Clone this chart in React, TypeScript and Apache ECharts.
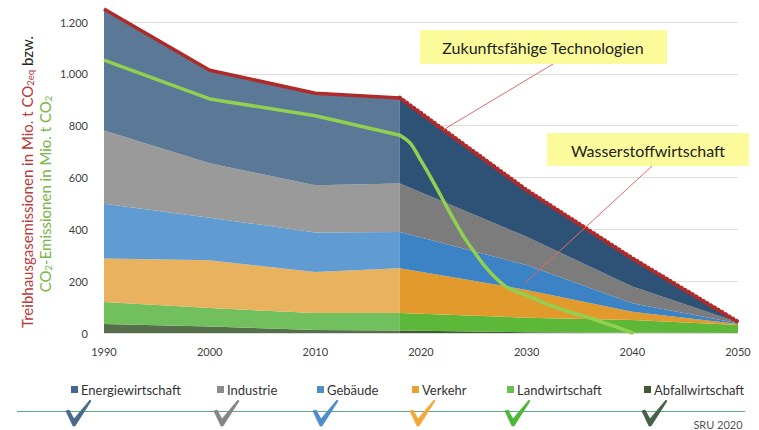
import React, { useEffect, useRef } from "react";
import * as echarts from "echarts";

// ---- data (Mio. t) ----
const sectorNames = ["Abfallwirtschaft", "Landwirtschaft", "Verkehr", "Gebäude", "Industrie", "Energiewirtschaft"];

const histYears = [1990, 2000, 2010, 2018];
const abfallHist = [35, 25, 12, 10];
const landwHist = [85, 71, 65, 67];
const verkehrHist = [167, 185, 158, 173];
const gebaeudeHist = [212, 164, 153, 140];
const industrieHist = [282, 210, 182, 187];
const energieHist = [469, 359, 355, 330];

const projYears = [2018, 2030, 2040, 2050];
const abfallProj = [10, 3, 1, 0];
const landwProj = [67, 56, 49, 31];
const verkehrProj = [173, 107, 32, 4];
const gebaeudeProj = [140, 96, 33, 3];
const industrieProj = [187, 109, 64, 3];
const energieProj = [330, 180, 109, 2];

const co2HistYears = [1990, 2000, 2010, 2018];
const co2HistValues = [1053, 903, 838, 763];
const co2ProjYears = [2018, 2019, 2020, 2021, 2022, 2023, 2024, 2025, 2026, 2027, 2028, 2029, 2030, 2032, 2034, 2036, 2038, 2040];
const co2ProjValues = [763, 732, 665, 595, 520, 445, 375, 315, 260, 215, 180, 160, 145, 110, 82, 58, 30, 0];

const xTicks = [1990, 2000, 2010, 2020, 2030, 2040, 2050];
const yTicks = [0, 200, 400, 600, 800, 1000, 1200];

// legend order as shown
const legendOrder = ["Energiewirtschaft", "Industrie", "Gebäude", "Verkehr", "Landwirtschaft", "Abfallwirtschaft"];

const histColors = ["#556f4a", "#72bf5e", "#e9b25e", "#609cd1", "#9a9a9a", "#5b7896"];
const projColors = ["#3d5a30", "#5db83a", "#e39a2d", "#3b83c4", "#7c7c7c", "#2e5275"];
const legendColors: Record<string, string> = {
  Energiewirtschaft: "#44678c",
  Industrie: "#8c8c8c",
  Gebäude: "#4f8fc6",
  Verkehr: "#e5a533",
  Landwirtschaft: "#6cbf4a",
  Abfallwirtschaft: "#3e5a35",
};
const checkColors = ["#4a6a8c", "#858585", "#4d8ec8", "#f2a93b", "#4cb83a", "#44604a"];

const histSets = [abfallHist, landwHist, verkehrHist, gebaeudeHist, industrieHist, energieHist];
const projSets = [abfallProj, landwProj, verkehrProj, gebaeudeProj, industrieProj, energieProj];

const sum = (sets: number[][], i: number) => sets.reduce((a, s) => a + s[i], 0);
const totalHist = histYears.map((_, i) => sum(histSets, i));
const totalProj = projYears.map((_, i) => sum(projSets, i));

const fmt = (v: number) =>
  v >= 1000 ? `${Math.floor(v / 1000)}.${String(v % 1000).padStart(3, "0")}` : String(v);

const FONT = "Lato, 'Open Sans', sans-serif";

export default function App() {
  const ref = useRef<HTMLDivElement>(null);
  useEffect(() => {
    if (!ref.current) return;
    const chart = echarts.init(ref.current, undefined, { renderer: "svg" });

    // data stored as [value, year] so that the stacked dimension is the value (y)
    const areaSeries: any[] = [];
    sectorNames.forEach((name, k) => {
      areaSeries.push({
        name,
        type: "line",
        stack: "hist",
        encode: { x: 1, y: 0 },
        data: histYears.map((y, i) => [histSets[k][i], y]),
        showSymbol: false,
        symbol: "none",
        lineStyle: { width: 0 },
        areaStyle: { color: histColors[k], opacity: 1 },
        itemStyle: { color: histColors[k] },
        clip: false,
        z: 2,
      });
    });
    sectorNames.forEach((name, k) => {
      areaSeries.push({
        name,
        type: "line",
        stack: "proj",
        encode: { x: 1, y: 0 },
        data: projYears.map((y, i) => [projSets[k][i], y]),
        showSymbol: false,
        symbol: "none",
        lineStyle: { width: 0 },
        areaStyle: { color: projColors[k], opacity: 1 },
        itemStyle: { color: projColors[k] },
        clip: false,
        z: 2,
      });
    });

    const legendLeft = [71, 217, 317, 412, 507, 644];
    const legends = legendOrder.map((n, i) => ({
      left: legendLeft[i],
      top: 383,
      padding: 0,
      itemWidth: 7,
      itemHeight: 7,
      icon: "rect",
      selectedMode: false,
      textStyle: { fontSize: 13, color: "#333", fontFamily: FONT, padding: [0, 0, 0, -2] },
      data: [{ name: n, icon: "rect", itemStyle: { color: legendColors[n] } }],
    }));

    const checkX = [66, 214, 313, 410, 505, 642];
    const checks = checkX.map((x, i) => ({
      type: "polygon",
      shape: {
        points: [
          [x, 411],
          [x + 3, 410],
          [x + 8, 419],
          [x + 24, 400],
          [x + 25, 401],
          [x + 9, 426],
          [x + 7, 426],
        ],
      },
      style: { fill: checkColors[i], stroke: checkColors[i], lineWidth: 0.8, lineJoin: "round" },
      z: 10,
    }));

    chart.setOption({
      animation: false,
      grid: { left: 104, right: 21, top: 22, bottom: 97 },
      legend: legends,
      xAxis: {
        type: "value",
        min: 1990,
        max: 2050,
        interval: 10,
        axisLine: { show: false },
        axisTick: { show: false },
        splitLine: { show: false },
        axisLabel: {
          margin: 13,
          fontSize: 11,
          color: "#404040",
          fontFamily: FONT,
          formatter: (v: number) => (xTicks.includes(v) ? String(v) : ""),
        },
      },
      yAxis: {
        type: "value",
        min: 0,
        max: 1200,
        interval: 200,
        axisLine: { show: false },
        axisTick: { show: false },
        splitLine: { lineStyle: { color: "#dcdcdc", width: 1 } },
        axisLabel: {
          margin: 16,
          fontSize: 11,
          color: "#404040",
          fontFamily: FONT,
          formatter: (v: number) => (yTicks.includes(v) ? fmt(v) : ""),
        },
      },
      series: [
        ...areaSeries,
        {
          name: "THG gesamt",
          type: "line",
          data: histYears.map((y, i) => [y, totalHist[i]]),
          showSymbol: false,
          symbol: "none",
          lineStyle: { color: "#b02a2a", width: 3.5 },
          clip: false,
          z: 5,
        },
        {
          name: "THG Szenario",
          type: "line",
          data: projYears.map((y, i) => [y, totalProj[i]]),
          showSymbol: false,
          symbol: "none",
          lineStyle: { color: "#b02a2a", width: 4.5, type: [0.1, 4.2], cap: "round" },
          clip: false,
          z: 5,
        },
        {
          name: "CO2 historisch",
          type: "line",
          data: co2HistYears.map((y, i) => [y, co2HistValues[i]]),
          showSymbol: false,
          symbol: "none",
          lineStyle: { color: "#92d050", width: 3.5, join: "round" },
          clip: false,
          z: 6,
        },
        {
          name: "CO2",
          type: "line",
          data: co2ProjYears.map((y, i) => [y, co2ProjValues[i]]),
          smooth: 0.3,
          showSymbol: false,
          symbol: "none",
          lineStyle: { color: "#92d050", width: 3.5, cap: "round" },
          clip: false,
          z: 6,
        },
      ],
      graphic: [
        {
          type: "text",
          x: 27,
          y: 182,
          rotation: Math.PI / 2,
          style: {
            text: "{r|Treibhausgasemissionen in Mio. t CO}{rs|2eq}{k| bzw.}",
            align: "center",
            verticalAlign: "middle",
            rich: {
              r: { fill: "#b83c3c", fontSize: 15, fontFamily: FONT },
              rs: { fill: "#b83c3c", fontSize: 9.5, fontFamily: FONT, padding: [7, 0, 0, 0] },
              k: { fill: "#222", fontSize: 15, fontFamily: FONT },
            },
          },
        },
        {
          type: "text",
          x: 45,
          y: 194,
          rotation: Math.PI / 2,
          style: {
            text: "{g|CO}{gs|2}{g|-Emissionen in Mio. t CO}{gs|2}",
            align: "center",
            verticalAlign: "middle",
            rich: {
              g: { fill: "#7ab648", fontSize: 15, fontFamily: FONT },
              gs: { fill: "#7ab648", fontSize: 9.5, fontFamily: FONT, padding: [7, 0, 0, 0] },
            },
          },
        },
        {
          type: "line",
          shape: { x1: 553, y1: 64, x2: 443, y2: 130 },
          style: { stroke: "#e06a6a", lineWidth: 1 },
          z: 10,
        },
        {
          type: "line",
          shape: { x1: 652, y1: 166, x2: 525, y2: 283 },
          style: { stroke: "#e06a6a", lineWidth: 1 },
          z: 10,
        },
        {
          type: "rect",
          shape: { x: 420, y: 30, width: 247, height: 34 },
          style: { fill: "#fbfb9c" },
          z: 11,
        },
        {
          type: "text",
          x: 543,
          y: 47,
          style: {
            text: "Zukunftsfähige Technologien",
            fill: "#222",
            fontSize: 16,
            fontFamily: FONT,
            align: "center",
            verticalAlign: "middle",
          },
          z: 12,
        },
        {
          type: "rect",
          shape: { x: 547, y: 133, width: 202, height: 33 },
          style: { fill: "#fbfb9c" },
          z: 11,
        },
        {
          type: "text",
          x: 648,
          y: 150,
          style: {
            text: "Wasserstoffwirtschaft",
            fill: "#222",
            fontSize: 16,
            fontFamily: FONT,
            align: "center",
            verticalAlign: "middle",
          },
          z: 12,
        },
        {
          type: "line",
          shape: { x1: 17, y1: 411.5, x2: 745, y2: 411.5 },
          style: { stroke: "#62a77f", lineWidth: 1 },
          z: 9,
        },
        ...checks,
        {
          type: "text",
          x: 718,
          y: 424,
          style: {
            text: "SRU 2020",
            fill: "#555",
            fontSize: 11,
            fontFamily: FONT,
            align: "center",
            verticalAlign: "middle",
          },
        },
      ],
    });
    return () => chart.dispose();
  }, []);
  return (
    <div
      ref={ref}
      style={{ position: "fixed", left: 0, top: 0, width: 759, height: 430, background: "#fff" }}
    />
  );
}
